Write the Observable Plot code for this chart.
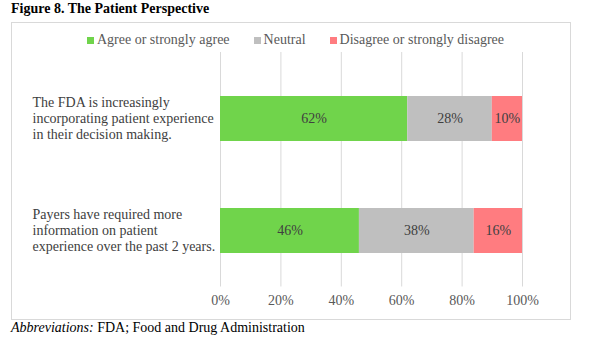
<!DOCTYPE html>
<html>
<head>
<meta charset="utf-8">
<script src="https://cdn.jsdelivr.net/npm/d3@7"></script>
<script src="https://cdn.jsdelivr.net/npm/@observablehq/plot@0.6"></script>
<style>
  html, body { margin: 0; padding: 0; background: #fff; }
  body { width: 591px; height: 341px; position: relative; overflow: hidden; font-family: "Liberation Serif", "Times New Roman", serif; }
  #title { position: absolute; left: 11px; top: 1px; font-size: 14px; font-weight: bold; color: #000; }
  #box { position: absolute; left: 11px; top: 22px; width: 558px; height: 296px; border: 1px solid #D9D9D9; }
  #legend { position: absolute; top: 32px; left: 0; width: 591px; display: flex; justify-content: center; font-size: 14px; color: #595959; box-sizing: border-box; padding-left: 0px;}
  .item { display: flex; align-items: center; margin: 0 12px; }
  .sw { width: 7px; height: 7px; margin-right: 3px; }
  #caption { position: absolute; left: 11px; top: 320px; font-size: 14px; color: #000; }
  #chart { position: absolute; left: 0; top: 0; }
</style>
</head>
<body>
<div id="title">Figure 8. The Patient Perspective</div>
<div id="box"></div>
<div id="legend"></div>
<div id="chart"></div>
<div id="caption"><i>Abbreviations:</i> FDA; Food and Drug Administration</div>
<script>
const questions = [
  "The FDA is increasingly\nincorporating patient experience\nin their decision making.",
  "Payers have required more\ninformation on patient\nexperience over the past 2 years."
];
const categories = ["Agree or strongly agree", "Neutral", "Disagree or strongly disagree"];
const agree = [62, 46];
const neutral = [28, 38];
const disagree = [10, 16];
const xTicks = [0, 20, 40, 60, 80, 100];
const colors = ["#70D44B", "#BFBFBF", "#FF7C80"];

const series = [agree, neutral, disagree];
const data = [];
questions.forEach((q, i) => {
  categories.forEach((c, j) => data.push({question: q, category: c, value: series[j][i]}));
});

// legend
const legend = document.getElementById("legend");
categories.forEach((c, j) => {
  const it = document.createElement("div");
  it.className = "item";
  const sw = document.createElement("div");
  sw.className = "sw";
  sw.style.background = colors[j];
  const t = document.createElement("span");
  t.textContent = c;
  it.appendChild(sw); it.appendChild(t);
  legend.appendChild(it);
});

const plot = Plot.plot({
  width: 591,
  height: 341,
  marginLeft: 220,
  marginRight: 69,
  marginTop: 62.5,
  marginBottom: 54.5,
  style: {fontFamily: '"Liberation Serif", "Times New Roman", serif', fontSize: "14px", background: "transparent", overflow: "visible"},
  x: {domain: [0, 100], ticks: xTicks, tickFormat: d => d + "%"},
  y: {domain: questions, paddingInner: 0.6, paddingOuter: 0.3, axis: null},
  color: {domain: categories, range: colors},
  marks: [
    Plot.ruleX(xTicks, {x: d => d, stroke: "#D9D9D9", strokeWidth: 1, insetTop: -10.5}),
    Plot.barX(data, Plot.stackX({x: "value", y: "question", fill: "category", order: categories})),
    Plot.text(data, Plot.stackX({x: "value", y: "question", z: "category", order: categories, text: d => d.value + "%", fill: "#404040", fontSize: 14})),
    Plot.text(questions, {y: d => d, text: d => d, frameAnchor: "left", dx: -188, dy: -1, textAnchor: "start", lineHeight: 1.15, fill: "#404040", fontSize: 14}),
    Plot.axisX({ticks: xTicks, tickFormat: d => d + "%", tickSize: 0, tickPadding: 8, color: "#595959", fontSize: 14, label: null})
  ]
});
document.getElementById("chart").appendChild(plot);
</script>
</body>
</html>
